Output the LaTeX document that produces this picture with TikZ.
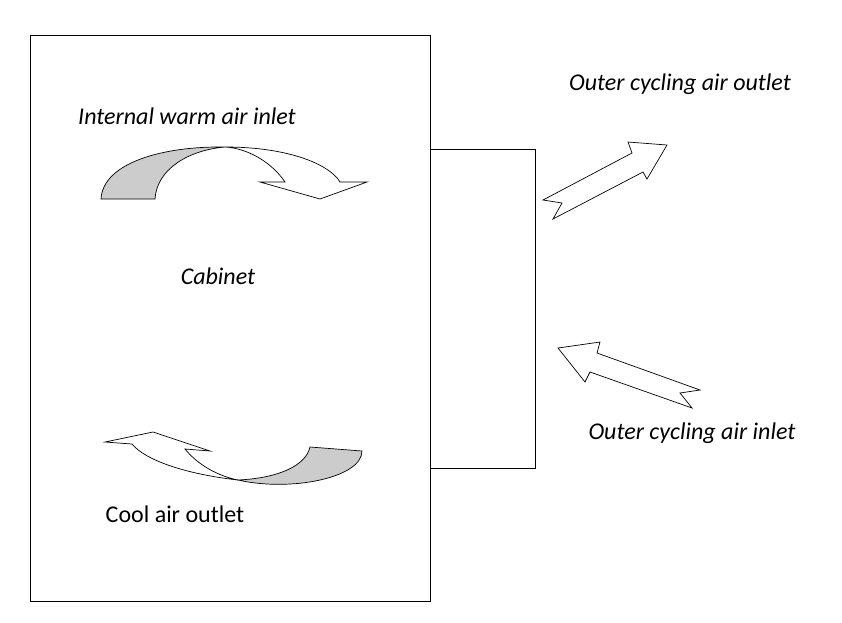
\documentclass[tikz,border=0pt]{standalone}
\usepackage{fontspec}
\setmainfont{Carlito}
\begin{document}
\begin{tikzpicture}[x=1pt,y=-1pt,line join=miter,
  box/.style={draw,line width=0.8pt},
  arr/.style={draw,line width=0.7pt,fill=white},
  garr/.style={draw,line width=0.7pt,fill=black!20},
  lbl/.style={font=\fontsize{24}{28}\selectfont\itshape,inner sep=0pt}]
\useasboundingbox (0,0) rectangle (842,622);
\draw[box] (30,35) rectangle (430,601);
\draw[box] (430,149) rectangle (535,468);
% top curved arrow
\draw[arr] (225,147) .. controls (290,147) and (330,165) .. (340,182) -- (367,182) -- (320,199) -- (260,182) -- (285,182) .. controls (270,160) and (245,148) .. (225,147);
\draw[garr] (101,199) .. controls (103,162) and (165,146) .. (225,147) .. controls (190,150) and (157,168) .. (155,199) -- cycle;
% bottom curved arrow
\draw[arr] (238,480) .. controls (185,474) and (145,460) .. (132,444) -- (105,442) -- (153,432) -- (210,451) -- (185,449) .. controls (198,465) and (218,476) .. (238,480);
\draw[garr] (238,480) .. controls (280,478) and (306,465) .. (310,447) -- (362,451) .. controls (362,478) and (290,492) .. (238,480) -- cycle;
% outer arrows
\draw[arr] (543,200) -- (562,203) -- (553,219) -- (643,172) -- (647,179) -- (667,145) -- (628,142) -- (632,153) -- cycle;
\draw[arr] (558,348) -- (600,342) -- (597,353) -- (700,390) -- (680,393) -- (692,408) -- (590,372) -- (585,382) -- cycle;
\node[lbl] (t1) at (187,116) {Internal warm air inlet};
\node[lbl] (t2) at (218,276) {Cabinet};
\node[lbl,font=\fontsize{24}{28}\selectfont\upshape] (t3) at (175,514) {Cool air outlet};
\node[lbl] (t4) at (680,84) {Outer cycling air outlet};
\node[lbl] (t5) at (692,433) {Outer cycling air inlet};
\end{tikzpicture}
\end{document}
